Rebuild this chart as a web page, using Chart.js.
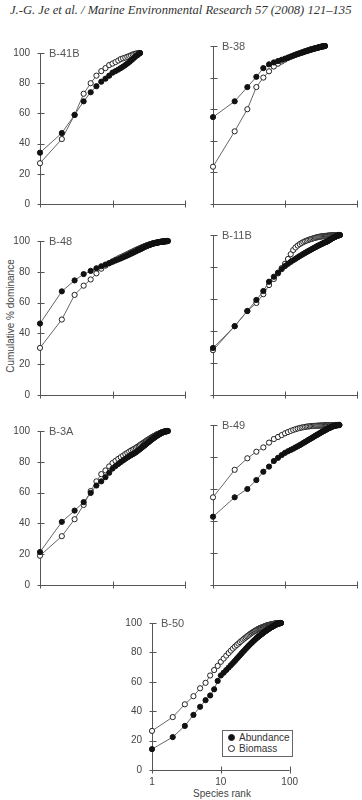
<!DOCTYPE html>
<html>
<head>
<meta charset="utf-8">
<script src="https://cdn.jsdelivr.net/npm/chart.js@4.4.0/dist/chart.umd.min.js"></script>
<style>
  body { margin: 0; background: #fff; }
  #page { position: relative; width: 362px; height: 800px; overflow: hidden;
          font-family: "Liberation Sans", Arial, sans-serif; color: #444; }
  #page canvas { position: absolute; }
  .txt { position: absolute; white-space: nowrap; }
  #header { left: 10px; top: 3px; font-family: "Liberation Serif", serif; font-style: italic;
            font-size: 12.6px; color: #333; }
  #ytitle { left: 10px; top: 316px; font-size: 10px; color: #444; transform: translate(-50%, -50%) rotate(-90deg); }
  #xtitle { left: 222px; top: 793px; font-size: 10px; color: #444; transform: translate(-50%, -50%); }
  #legend { left: 222px; top: 730px; width: 71px; height: 27px; border: 1px solid #666;
            font-size: 10px; color: #333; box-sizing: border-box; }
  #legend .row { position: absolute; left: 5px; height: 12px; line-height: 12px; }
  #legend .dot { display: inline-block; width: 5px; height: 5px; border-radius: 50%;
                 border: 1px solid #222; margin-right: 4px; vertical-align: 0; }
</style>
</head>
<body>
<div id="page">
  <div class="txt" id="header">J.-G. Je et al. / Marine Environmental Research 57 (2008) 121–135</div>
  <div class="txt" id="ytitle">Cumulative % dominance</div>
  <div class="txt" id="xtitle">Species rank</div>
  <div class="txt" id="legend">
    <div class="row" style="top:1px"><span class="dot" style="background:#111"></span>Abundance</div>
    <div class="row" style="top:12px"><span class="dot" style="background:#fff"></span>Biomass</div>
  </div>
</div>
<script>
// tick values
const yTicks = [0, 20, 40, 60, 80, 100];
const xTicks = [1, 10, 100];
const xTickLabels = ["1", "10", "100"];

// cumulative % dominance by species rank (rank = position + 1)
const abundanceB41B = [34, 47, 59, 68, 74, 78, 81, 83, 85, 87, 88, 89, 90, 91, 92, 93, 94, 95, 96, 97, 98, 98.5, 99.3, 100];
const biomassB41B = [27, 43, 59, 73, 80, 85, 88, 90, 92, 93, 94, 95, 96, 96.5, 97, 97.5, 98, 98.5, 99, 99.3, 99.6, 99.8, 100, 100];

const abundanceB38 = [55, 65, 74, 80.5, 86, 88.4, 89.6, 90.5, 91.3, 92, 92.7, 93.3, 93.9, 94.4, 94.9, 95.3, 95.7, 96.1,
  96.5, 96.8, 97.1, 97.4, 97.7, 98, 98.2, 98.4, 98.6, 98.8, 99, 99.2, 99.4, 99.5, 99.7, 99.8, 99.9, 100];
const biomassB38 = [23.6, 46, 60, 74, 80, 84, 87, 88.8, 90.2, 91.4, 92.4, 93.2, 93.9, 94.5, 95, 95.5, 95.9, 96.3,
  96.7, 97, 97.3, 97.6, 97.9, 98.1, 98.3, 98.5, 98.7, 98.9, 99.1, 99.3, 99.4, 99.6, 99.7, 99.8, 99.9, 100];

const abundanceB48 = [46.4, 67.3, 74.4, 78.5, 80.6, 82.3, 83.6, 84.7, 85.6, 86.5,
  87.3, 88, 88.7, 89.4, 90, 90.6, 91.2, 91.8, 92.3, 92.8,
  93.3, 93.8, 94.2, 94.6, 95, 95.4, 95.8, 96.2, 96.5, 96.8,
  97.1, 97.4, 97.6, 97.8, 98, 98.2, 98.4, 98.6, 98.7, 98.8,
  98.9, 99, 99.1, 99.2, 99.3, 99.4, 99.5, 99.55, 99.6, 99.65,
  99.7, 99.75, 99.8, 99.85, 99.9, 99.93, 99.96, 100];
const biomassB48 = [30.6, 49, 65, 71, 75, 79, 82, 84, 85.5, 86.8,
  87.8, 88.7, 89.5, 90.2, 90.9, 91.5, 92.1, 92.7, 93.2, 93.7,
  94.2, 94.6, 95, 95.4, 95.8, 96.1, 96.4, 96.7, 97, 97.3,
  97.5, 97.7, 97.9, 98.1, 98.3, 98.5, 98.6, 98.7, 98.8, 98.9,
  99, 99.1, 99.2, 99.3, 99.4, 99.45, 99.5, 99.55, 99.6, 99.65,
  99.7, 99.75, 99.8, 99.85, 99.9, 99.95, 99.98, 100];

const abundanceB11B = [29.4, 43, 52.5, 59.4, 65, 70.8, 73.9, 76.5, 78.7, 80.6,
  82, 83.2, 84.2, 85.1, 86, 86.8, 87.5, 88.2, 88.8, 89.4,
  89.9, 90.4, 90.9, 91.4, 91.8, 92.2, 92.6, 93, 93.4, 93.7,
  94, 94.3, 94.6, 94.9, 95.2, 95.4, 95.6, 95.8, 96.1, 96.4,
  96.7, 97, 97.3, 97.6, 97.9, 98.1, 98.3, 98.5, 98.7, 98.9,
  99.1, 99.3, 99.45, 99.6, 99.7, 99.8, 99.9, 100];
const biomassB11B = [28, 43, 52.5, 57.5, 63, 68.7, 72.5, 76, 79.3, 82,
  85, 88, 90.6, 92.2, 93.4, 94.3, 95, 95.6, 96.1, 96.5,
  96.9, 97.2, 97.5, 97.7, 98, 98.2, 98.4, 98.6, 98.75, 98.9,
  99, 99.1, 99.2, 99.3, 99.35, 99.4, 99.45, 99.5, 99.55, 99.6,
  99.65, 99.7, 99.72, 99.75, 99.78, 99.8, 99.82, 99.85, 99.87, 99.9,
  99.92, 99.94, 99.95, 99.96, 99.97, 99.98, 99.99, 100];

const abundanceB3A = [21.4, 41, 48.3, 53.8, 59.8, 64.6, 67.3, 70, 72.9, 75.6,
  77.2, 78.6, 79.8, 80.9, 81.9, 82.8, 83.6, 84.3, 84.9, 85.5,
  86.2, 86.9, 87.6, 88.3, 89, 89.6, 90.2, 90.8, 91.4, 92,
  92.6, 93.1, 93.6, 94.1, 94.6, 95, 95.4, 95.8, 96.2, 96.6,
  96.9, 97.2, 97.5, 97.8, 98.1, 98.4, 98.6, 98.8, 99, 99.2,
  99.35, 99.5, 99.6, 99.7, 99.8, 99.88, 99.95, 100];
const biomassB3A = [19, 31.7, 42.7, 52, 61, 67.3, 72, 74.4, 77, 79.2,
  80.6, 81.9, 83, 84, 85, 85.8, 86.6, 87.3, 87.9, 88.5,
  89.1, 89.7, 90.3, 90.9, 91.5, 92, 92.5, 93, 93.5, 94,
  94.4, 94.8, 95.2, 95.6, 96, 96.3, 96.6, 96.9, 97.2, 97.5,
  97.8, 98, 98.2, 98.4, 98.6, 98.8, 99, 99.15, 99.3, 99.45,
  99.55, 99.65, 99.75, 99.82, 99.88, 99.93, 99.97, 100];

const abundanceB49 = [42.7, 54.8, 60, 65.6, 70.8, 74, 77.5, 79.5, 81.2, 82.6,
  83.6, 84.4, 85.2, 86, 86.7, 87.4, 88.1, 88.8, 89.4, 90,
  90.6, 91.1, 91.6, 92.1, 92.6, 93.1, 93.5, 93.9, 94.3, 94.7,
  95.1, 95.5, 95.8, 96.1, 96.4, 96.7, 97, 97.3, 97.6, 97.9,
  98.1, 98.3, 98.5, 98.7, 98.9, 99.1, 99.25, 99.4, 99.5, 99.6,
  99.7, 99.78, 99.85, 99.9, 99.95, 99.98, 100];
const biomassB49 = [54.8, 72, 79.2, 83.3, 86, 89, 91.2, 92.5, 93.7, 94.8,
  95.6, 96.3, 96.9, 97.4, 97.8, 98.1, 98.4, 98.6, 98.8, 99,
  99.1, 99.2, 99.3, 99.35, 99.4, 99.45, 99.5, 99.55, 99.6, 99.63,
  99.66, 99.69, 99.72, 99.75, 99.77, 99.79, 99.81, 99.83, 99.85, 99.86,
  99.87, 99.88, 99.89, 99.9, 99.91, 99.92, 99.93, 99.94, 99.95, 99.96,
  99.97, 99.975, 99.98, 99.985, 99.99, 99.995, 100];

const abundanceB50 = [14.2, 22.4, 30, 37.5, 43, 47.5, 50.7, 54.9, 60.6, 64.3,
  66.2, 68, 69.7, 71.3, 72.8, 74.2, 75.6, 76.9, 78.1, 79.3,
  80.4, 81.4, 82.4, 83.3, 84.2, 85, 85.8, 86.5, 87.2, 87.9,
  88.5, 89.1, 89.7, 90.2, 90.7, 91.2, 91.6, 92, 92.4, 92.8,
  93.2, 93.6, 94, 94.3, 94.6, 94.9, 95.2, 95.5, 95.8, 96.1,
  96.4, 96.7, 96.9, 97.1, 97.3, 97.5, 97.7, 97.9, 98.1, 98.3,
  98.5, 98.7, 98.85, 99, 99.15, 99.3, 99.4, 99.5, 99.6, 99.7,
  99.78, 99.85, 99.9, 99.95, 100];
const biomassB50 = [26.6, 36, 44.7, 50.2, 55.6, 59.3, 64.3, 68, 70.8, 73.6,
  75.8, 77.8, 79.6, 81.2, 82.6, 83.9, 85, 86, 87, 87.9,
  88.7, 89.5, 90.2, 90.9, 91.5, 92.1, 92.7, 93.2, 93.7, 94.1,
  94.5, 94.9, 95.3, 95.6, 95.9, 96.2, 96.5, 96.7, 96.9, 97.1,
  97.3, 97.5, 97.7, 97.9, 98.05, 98.2, 98.35, 98.5, 98.6, 98.7,
  98.8, 98.9, 99, 99.1, 99.18, 99.26, 99.33, 99.4, 99.46, 99.52,
  99.58, 99.63, 99.68, 99.72, 99.76, 99.8, 99.84, 99.87, 99.9, 99.93,
  99.95, 99.97, 99.98, 99.99, 100];

// where each panel's plot box sits on the page
const panels = [
  { name: "B-41B", abund: abundanceB41B, bio: biomassB41B, l: 40,  t: 47,  r: 185, b: 204, yLabels: true,  xLabels: false },
  { name: "B-38",  abund: abundanceB38,  bio: biomassB38,  l: 213, t: 46,  r: 357, b: 204, yLabels: false, xLabels: false },
  { name: "B-48",  abund: abundanceB48,  bio: biomassB48,  l: 40,  t: 235, r: 185, b: 395, yLabels: true,  xLabels: false },
  { name: "B-11B", abund: abundanceB11B, bio: biomassB11B, l: 213, t: 235, r: 357, b: 395, yLabels: false, xLabels: false },
  { name: "B-3A",  abund: abundanceB3A,  bio: biomassB3A,  l: 40,  t: 425, r: 185, b: 585, yLabels: true,  xLabels: false },
  { name: "B-49",  abund: abundanceB49,  bio: biomassB49,  l: 213, t: 425, r: 357, b: 585, yLabels: false, xLabels: false },
  { name: "B-50",  abund: abundanceB50,  bio: biomassB50,  l: 152, t: 617, r: 296, b: 770, yLabels: true,  xLabels: true }
];

// axis lines with ticks crossing them
const axesPlugin = {
  id: "axes",
  beforeDatasetsDraw(chart) {
    const { ctx, chartArea: a, scales: { x, y } } = chart;
    const L = Math.round(a.left) + 0.5, B = Math.round(a.bottom) + 0.5;
    ctx.save();
    ctx.strokeStyle = "#555";
    ctx.lineWidth = 1;
    ctx.beginPath();
    ctx.moveTo(L, a.top);
    ctx.lineTo(L, B);
    ctx.lineTo(a.right, B);
    yTicks.forEach(v => {
      const py = Math.round(y.getPixelForValue(v)) + 0.5;
      ctx.moveTo(L - 3, py); ctx.lineTo(L + 4, py);
    });
    xTicks.forEach(v => {
      const px = Math.round(x.getPixelForValue(v)) + 0.5;
      ctx.moveTo(px, B - 4); ctx.lineTo(px, B + 3);
    });
    ctx.stroke();
    ctx.restore();
  }
};

// station name in the top-left corner
const namePlugin = {
  id: "stationName",
  afterDraw(chart, args, opts) {
    const { ctx, chartArea: a } = chart;
    ctx.save();
    ctx.font = "11px 'Liberation Sans', Arial, sans-serif";
    ctx.fillStyle = "#555";
    ctx.textBaseline = "middle";
    ctx.fillText(opts.text, a.left + 9, a.top + 1);
    ctx.restore();
  }
};

const page = document.getElementById("page");

panels.forEach(p => {
  const cv = document.createElement("canvas");
  const W = p.r - p.l + 48, H = p.b - p.t + 40;
  cv.width = W; cv.height = H;
  cv.style.width = W + "px"; cv.style.height = H + "px";
  cv.style.left = (p.l - 40) + "px";
  cv.style.top = (p.t - 10) + "px";
  page.appendChild(cv);

  const series = (vals, fill, edge) => ({
    data: vals.map((v, i) => ({ x: i + 1, y: v })),
    showLine: true,
    borderColor: "#666",
    borderWidth: 1,
    pointRadius: 2.6,
    pointBackgroundColor: fill,
    pointBorderColor: edge,
    pointBorderWidth: 1,
    clip: false
  });

  new Chart(cv, {
    type: "scatter",
    data: {
      datasets: [
        Object.assign({ label: "Abundance" }, series(p.abund, "#111", "#111")),
        Object.assign({ label: "Biomass" }, series(p.bio, "#fff", "#222"))
      ]
    },
    options: {
      responsive: false,
      animation: false,
      devicePixelRatio: 1,
      layout: { padding: { left: 0, top: 10, right: 8, bottom: 0 } },
      plugins: {
        legend: { display: false },
        tooltip: { enabled: false },
        stationName: { text: p.name }
      },
      scales: {
        x: {
          type: "logarithmic",
          min: 1, max: 100,
          afterBuildTicks: s => { s.ticks = xTicks.map(v => ({ value: v })); },
          afterFit: s => { s.height = 30; },
          grid: { display: false, drawTicks: false },
          border: { display: false },
          ticks: {
            display: p.xLabels,
            autoSkip: false, maxRotation: 0, padding: 6,
            color: "#444",
            font: { size: 10, family: "'Liberation Sans', Arial, sans-serif" },
            callback: v => xTickLabels[xTicks.indexOf(v)]
          }
        },
        y: {
          min: 0, max: 100,
          afterBuildTicks: s => { s.ticks = yTicks.map(v => ({ value: v })); },
          afterFit: s => { s.width = 40; },
          grid: { display: false, drawTicks: false },
          border: { display: false },
          ticks: {
            display: p.yLabels,
            padding: 10,
            color: "#444",
            font: { size: 10, family: "'Liberation Sans', Arial, sans-serif" }
          }
        }
      }
    },
    plugins: [axesPlugin, namePlugin]
  });
});
</script>
</body>
</html>
